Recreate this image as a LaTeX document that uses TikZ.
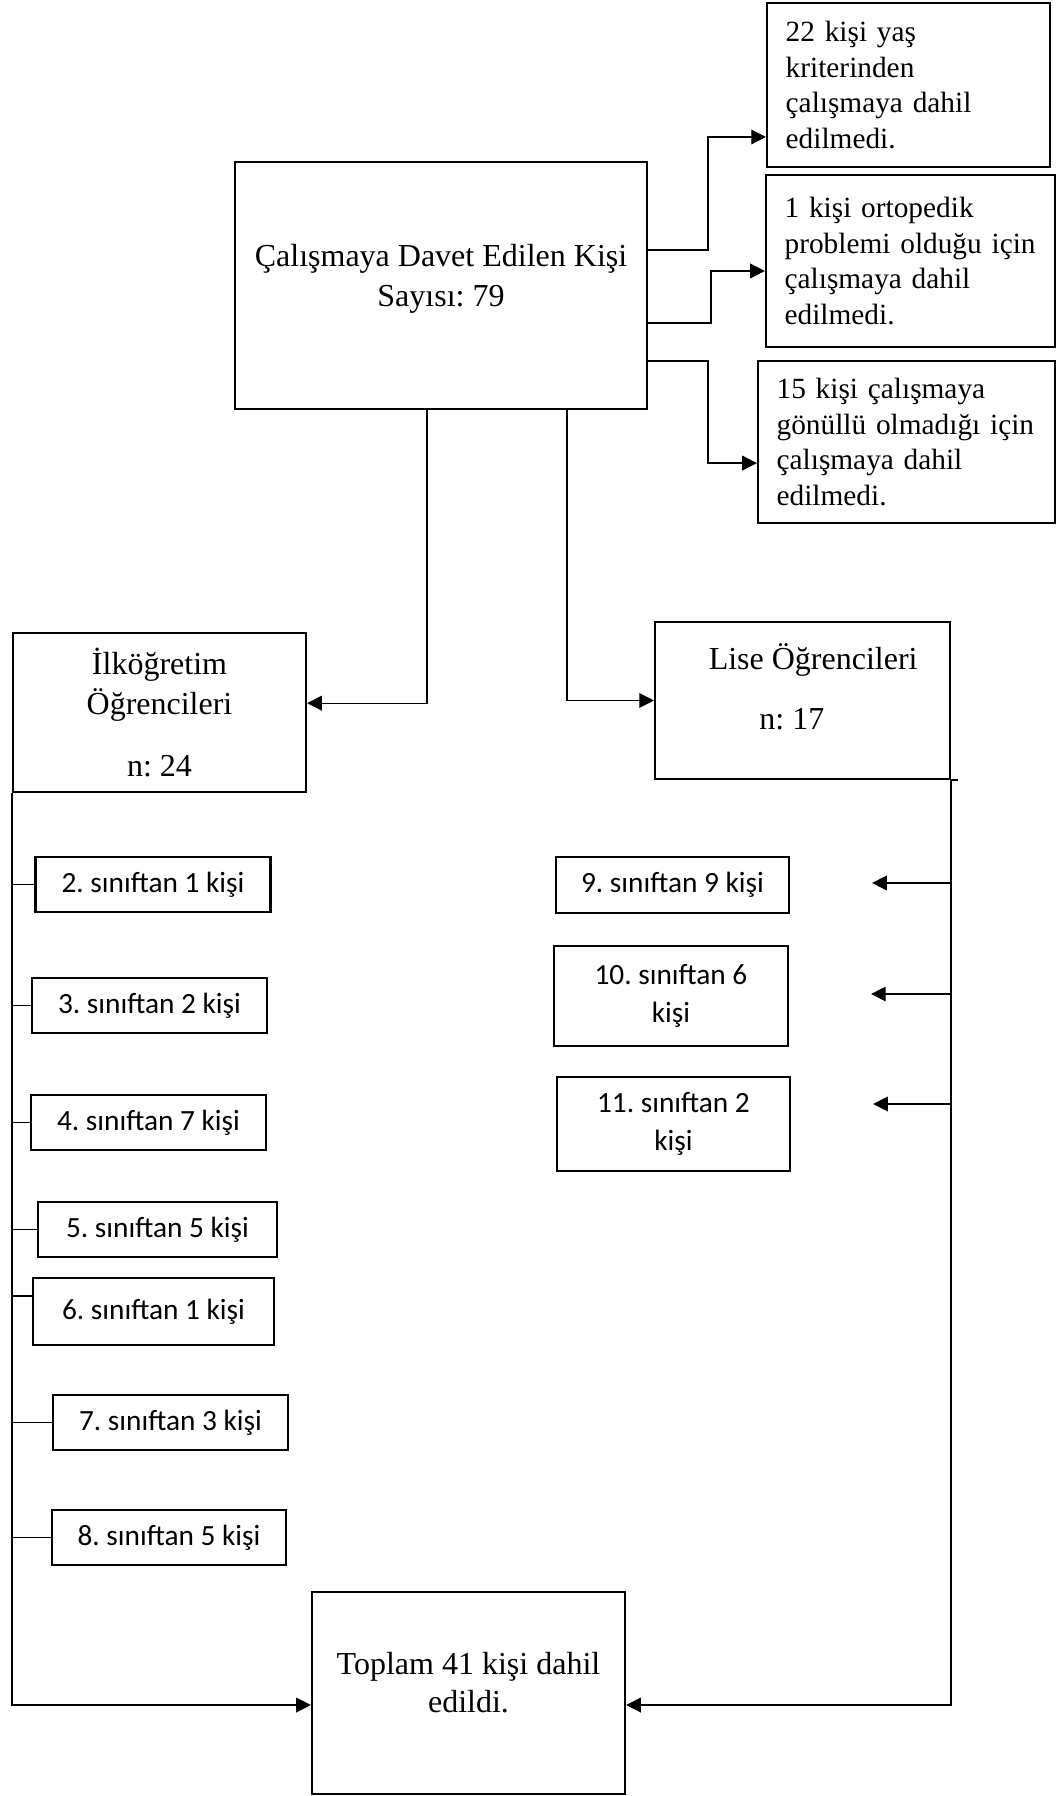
\documentclass[tikz,border=0pt]{standalone}
\usepackage{fontspec}
\setmainfont{Liberation Serif}
\newfontfamily\calibri{Carlito}
\usetikzlibrary{arrows.meta}
\frenchspacing

\begin{document}
\begin{tikzpicture}[x=0.375pt, y=-0.375pt,
  big/.style={draw, line width=0.8pt, align=center, inner sep=0pt,
              font=\fontsize{12}{15}\selectfont},
  exbox/.style={draw, line width=0.8pt, align=left, inner xsep=7pt, inner ysep=0pt,
              font=\fontsize{11}{13.3}\selectfont},
  grade/.style={draw, line width=0.8pt, align=center, inner sep=0pt,
              minimum width=88.1pt, minimum height=20.6pt,
              font=\calibri\fontsize{11}{14}\selectfont},
  ln/.style={line width=0.5pt},
  ar/.style={-{Triangle[length=5.5pt, width=5.5pt]}, line width=0.5pt}]
\useasboundingbox (0,0) rectangle (1063,1796);
% top: invited and excluded
\node[big, minimum width=154.5pt, minimum height=92.6pt, text depth=7.8pt] (main) at (441,285.5) {Çalışmaya Davet Edilen Kişi\\Sayısı: 79};
\node[exbox, text width=92.1pt, minimum height=61.5pt] (ex1) at (908.5,85) {22 kişi yaş\\kriterinden\\çalışmaya dahil\\edilmedi.};
\node[exbox, text width=94.4pt, minimum height=64.5pt] (ex2) at (910.5,261) {1 kişi ortopedik\\problemi olduğu için\\çalışmaya dahil\\edilmedi.};
\node[exbox, text width=97.4pt, minimum height=60.75pt] (ex3) at (906.5,442) {15 kişi çalışmaya\\gönüllü olmadığı için\\çalışmaya dahil\\edilmedi.};
% groups
\node[big, minimum width=109.9pt, minimum height=59.6pt] (ilk) at (159.5,712.5) {İlköğretim\\Öğrencileri\\[8pt]n: 24};
\node[big, minimum width=110.6pt, minimum height=58.9pt, text depth=10.3pt] (lise) at (802.5,700.5) {\hspace*{8pt}Lise Öğrencileri\\[7.5pt]n: 17\hspace*{8pt}};
% grades
\node[grade] (s2) at (153,884.5) {2. sınıftan 1 kişi};
\node[grade] (s3) at (149.5,1005.5) {3. sınıftan 2 kişi};
\node[grade] (s4) at (148.5,1122.5) {4. sınıftan 7 kişi};
\node[grade, minimum width=89.6pt] (s5) at (157.5,1229.5) {5. sınıftan 5 kişi};
\node[grade, minimum width=90.4pt, minimum height=25.1pt] (s6) at (153.5,1311.5) {6. sınıftan 1 kişi};
\node[grade] (s7) at (170.5,1422.5) {7. sınıftan 3 kişi};
\node[grade, minimum width=87.75pt] (s8) at (169,1537.5) {8. sınıftan 5 kişi};
\node[grade, minimum width=87.4pt, minimum height=21pt] (s9) at (672.5,885) {9. sınıftan 9 kişi};
\node[grade, minimum width=87.75pt, minimum height=37.5pt] (s10) at (671,996) {10. sınıftan 6\\kişi};
\node[grade, minimum width=87.4pt, minimum height=35.25pt] (s11) at (673.5,1124) {11. sınıftan 2\\kişi};
% total
\node[big, minimum width=117.4pt, minimum height=75.75pt, text depth=7.7pt, font=\fontsize{12}{14.2}\selectfont] (total) at (468.5,1693) {Toplam 41 kişi dahil\\edildi.};
% connectors
\draw[ar] ([yshift=13.3pt]main.east) -- ++(22.5pt,0) |- ([yshift=-19.5pt]ex1.west);
\draw[ar] ([yshift=-14.1pt]main.east) -- ++(23.6pt,0) |- ([yshift=-3.75pt]ex2.west);
\draw[ar] ([yshift=-28.3pt]main.east) -- ++(22.5pt,0) |- ([yshift=-7.9pt]ex3.west);
\draw[ar] ([xshift=-5.25pt]main.south) |- ([yshift=3.5pt]ilk.east);
\draw[ar] ([xshift=47.25pt]main.south) |- (lise.west);
\draw[ar] (ilk.south west) |- ([yshift=-4.5pt]total.west);
\draw[ar] (lise.south east) |- ([yshift=-4.5pt]total.east);
\draw[ln] (lise.south east) -- ++(2.6pt,0);
\path ([yshift=5.8pt]s6.west) coordinate (c6);
\foreach \s in {s2,s3,s4,s5,c6,s7,s8} \draw[ln] (\s.west -| ilk.south west) -- (\s.west);
\path ([xshift=30.75pt,yshift=0.75pt]s9.east) coordinate (t9)
      ([xshift=30.75pt,yshift=0.75pt]s10.east) coordinate (t10)
      ([xshift=30.75pt,yshift=7.5pt]s11.east) coordinate (t11);
\foreach \t in {t9,t10,t11} \draw[ar] (\t -| lise.south east) -- (\t);
\end{tikzpicture}
\end{document}
